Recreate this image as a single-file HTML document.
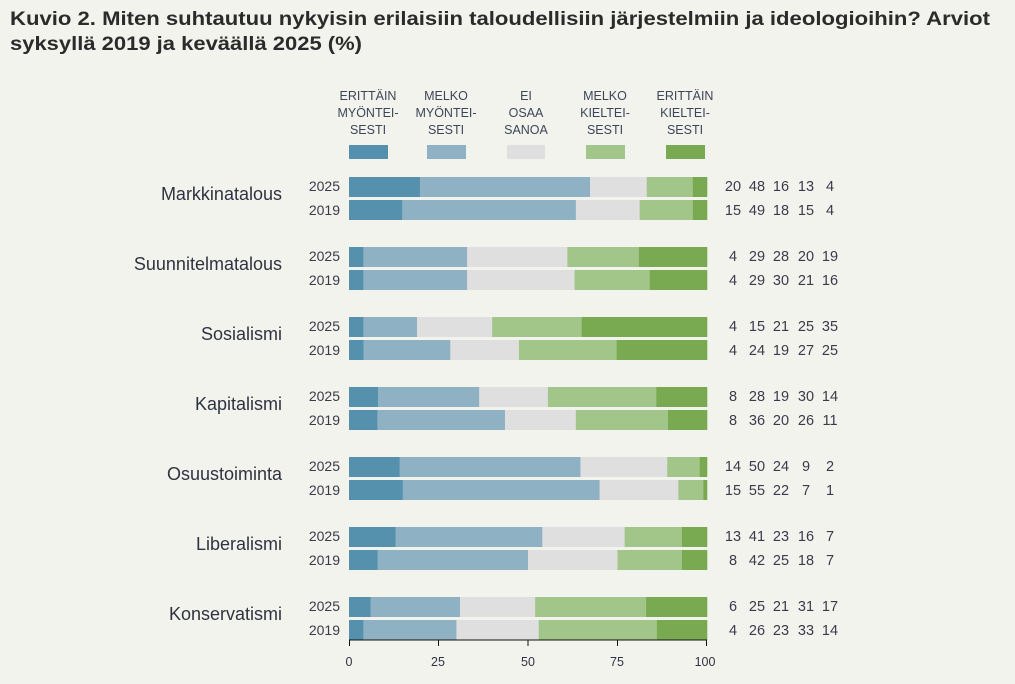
<!DOCTYPE html>
<html><head><meta charset="utf-8"><style>
body{margin:0;background:#f3f3ee;}
svg{display:block;font-family:"Liberation Sans",sans-serif;}
.t{font-weight:bold;font-size:19.5px;fill:#2b2b2b;}
.lg{font-size:12.5px;fill:#3d4656;text-anchor:middle;}
.cat{font-size:18px;fill:#2f3340;text-anchor:end;}
.yr{font-size:14px;fill:#3a3a48;text-anchor:end;}
.n{font-size:14.5px;fill:#3a3a4a;text-anchor:middle;}
.ax{font-size:12.5px;fill:#2f3340;text-anchor:middle;}
</style></head><body>
<svg id="s" width="1015" height="684" xmlns="http://www.w3.org/2000/svg">
<text class="t" x="10" y="25" textLength="980" lengthAdjust="spacingAndGlyphs">Kuvio 2. Miten suhtautuu nykyisin erilaisiin taloudellisiin järjestelmiin ja ideologioihin? Arviot</text>
<text class="t" x="10" y="50" textLength="352" lengthAdjust="spacingAndGlyphs">syksyllä 2019 ja keväällä 2025 (%)</text>

<text class="lg" x="368" y="100">ERITTÄIN</text><text class="lg" x="368" y="117">MYÖNTEI-</text><text class="lg" x="368" y="134">SESTI</text>
<text class="lg" x="446" y="100">MELKO</text><text class="lg" x="446" y="117">MYÖNTEI-</text><text class="lg" x="446" y="134">SESTI</text>
<text class="lg" x="526" y="100">EI</text><text class="lg" x="526" y="117">OSAA</text><text class="lg" x="526" y="134">SANOA</text>
<text class="lg" x="605" y="100">MELKO</text><text class="lg" x="605" y="117">KIELTEI-</text><text class="lg" x="605" y="134">SESTI</text>
<text class="lg" x="685" y="100">ERITTÄIN</text><text class="lg" x="685" y="117">KIELTEI-</text><text class="lg" x="685" y="134">SESTI</text>
<rect x="349" y="145" width="39" height="14" fill="#5590ad"/>
<rect x="427" y="145" width="39" height="14" fill="#8fb1c4"/>
<rect x="507" y="145" width="38" height="14" fill="#dfdfdf"/>
<rect x="586" y="145" width="39" height="14" fill="#a2c589"/>
<rect x="666" y="145" width="39" height="14" fill="#79aa52"/>

<g id="bars"></g>

<text class="cat" x="282" y="200">Markkinatalous</text>
<text class="cat" x="282" y="270">Suunnitelmatalous</text>
<text class="cat" x="282" y="340">Sosialismi</text>
<text class="cat" x="282" y="410">Kapitalismi</text>
<text class="cat" x="282" y="480">Osuustoiminta</text>
<text class="cat" x="282" y="550">Liberalismi</text>
<text class="cat" x="282" y="620">Konservatismi</text>

<g>
<text class="yr" x="340" y="191">2025</text><text class="yr" x="340" y="215">2019</text>
<text class="yr" x="340" y="261">2025</text><text class="yr" x="340" y="285">2019</text>
<text class="yr" x="340" y="331">2025</text><text class="yr" x="340" y="355">2019</text>
<text class="yr" x="340" y="401">2025</text><text class="yr" x="340" y="425">2019</text>
<text class="yr" x="340" y="471">2025</text><text class="yr" x="340" y="495">2019</text>
<text class="yr" x="340" y="541">2025</text><text class="yr" x="340" y="565">2019</text>
<text class="yr" x="340" y="611">2025</text><text class="yr" x="340" y="635">2019</text>
</g>

<g>
<text class="n" x="733" y="191">20</text><text class="n" x="757" y="191">48</text><text class="n" x="781" y="191">16</text><text class="n" x="806" y="191">13</text><text class="n" x="830" y="191">4</text>
<text class="n" x="733" y="215">15</text><text class="n" x="757" y="215">49</text><text class="n" x="781" y="215">18</text><text class="n" x="806" y="215">15</text><text class="n" x="830" y="215">4</text>
<text class="n" x="733" y="261">4</text><text class="n" x="757" y="261">29</text><text class="n" x="781" y="261">28</text><text class="n" x="806" y="261">20</text><text class="n" x="830" y="261">19</text>
<text class="n" x="733" y="285">4</text><text class="n" x="757" y="285">29</text><text class="n" x="781" y="285">30</text><text class="n" x="806" y="285">21</text><text class="n" x="830" y="285">16</text>
<text class="n" x="733" y="331">4</text><text class="n" x="757" y="331">15</text><text class="n" x="781" y="331">21</text><text class="n" x="806" y="331">25</text><text class="n" x="830" y="331">35</text>
<text class="n" x="733" y="355">4</text><text class="n" x="757" y="355">24</text><text class="n" x="781" y="355">19</text><text class="n" x="806" y="355">27</text><text class="n" x="830" y="355">25</text>
<text class="n" x="733" y="401">8</text><text class="n" x="757" y="401">28</text><text class="n" x="781" y="401">19</text><text class="n" x="806" y="401">30</text><text class="n" x="830" y="401">14</text>
<text class="n" x="733" y="425">8</text><text class="n" x="757" y="425">36</text><text class="n" x="781" y="425">20</text><text class="n" x="806" y="425">26</text><text class="n" x="830" y="425">11</text>
<text class="n" x="733" y="471">14</text><text class="n" x="757" y="471">50</text><text class="n" x="781" y="471">24</text><text class="n" x="806" y="471">9</text><text class="n" x="830" y="471">2</text>
<text class="n" x="733" y="495">15</text><text class="n" x="757" y="495">55</text><text class="n" x="781" y="495">22</text><text class="n" x="806" y="495">7</text><text class="n" x="830" y="495">1</text>
<text class="n" x="733" y="541">13</text><text class="n" x="757" y="541">41</text><text class="n" x="781" y="541">23</text><text class="n" x="806" y="541">16</text><text class="n" x="830" y="541">7</text>
<text class="n" x="733" y="565">8</text><text class="n" x="757" y="565">42</text><text class="n" x="781" y="565">25</text><text class="n" x="806" y="565">18</text><text class="n" x="830" y="565">7</text>
<text class="n" x="733" y="611">6</text><text class="n" x="757" y="611">25</text><text class="n" x="781" y="611">21</text><text class="n" x="806" y="611">31</text><text class="n" x="830" y="611">17</text>
<text class="n" x="733" y="635">4</text><text class="n" x="757" y="635">26</text><text class="n" x="781" y="635">23</text><text class="n" x="806" y="635">33</text><text class="n" x="830" y="635">14</text>
</g>

<line x1="349" y1="640" x2="707" y2="640" stroke="#111" stroke-width="1"/>
<g stroke="#111" stroke-width="1">
<line x1="349.5" y1="640" x2="349.5" y2="646"/><line x1="438.5" y1="640" x2="438.5" y2="646"/>
<line x1="528" y1="640" x2="528" y2="646"/><line x1="617.5" y1="640" x2="617.5" y2="646"/><line x1="706.5" y1="640" x2="706.5" y2="646"/>
</g>
<text class="ax" x="349" y="666">0</text><text class="ax" x="438" y="666">25</text><text class="ax" x="528" y="666">50</text><text class="ax" x="617" y="666">75</text><text class="ax" x="705" y="666">100</text>
</svg>
<script>
var d=[[20,48,16,13,4],[15,49,18,15,4],[4,29,28,20,19],[4,29,30,21,16],[4,15,21,25,35],[4,24,19,27,25],[8,28,19,30,14],[8,36,20,26,11],[14,50,24,9,2],[15,55,22,7,1],[13,41,23,16,7],[8,42,25,18,7],[6,25,21,31,17],[4,26,23,33,14]];
var c=["#5590ad","#8fb1c4","#dfdfdf","#a2c589","#79aa52"];
var g=document.getElementById("bars"),ns="http://www.w3.org/2000/svg";
d.forEach(function(r,i){var y=177+Math.floor(i/2)*70+(i%2)*23;var s=r.reduce(function(a,b){return a+b},0);var x=349;
r.forEach(function(v,j){var w=v/s*358;var e=document.createElementNS(ns,"rect");e.setAttribute("x",x);e.setAttribute("y",y);e.setAttribute("width",w+0.3);e.setAttribute("height",20);e.setAttribute("fill",c[j]);g.appendChild(e);x+=w;});});
</script>
</body></html>
